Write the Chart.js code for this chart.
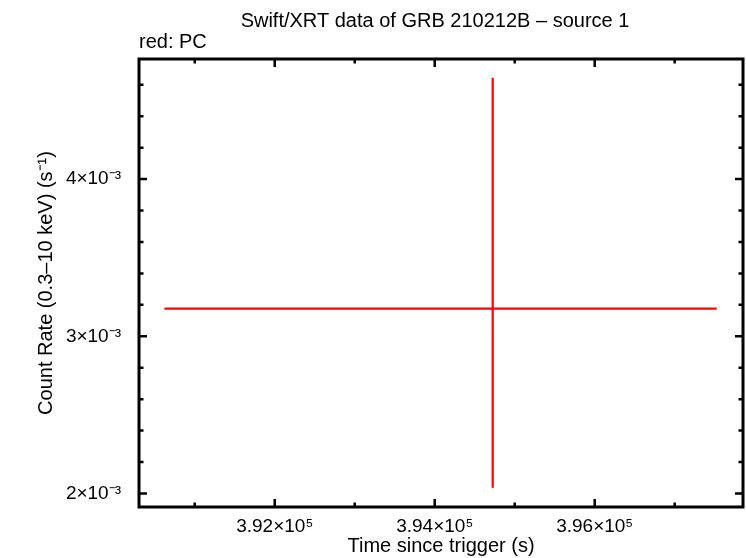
<!DOCTYPE html>
<html>
<head>
<meta charset="utf-8">
<script src="https://cdn.jsdelivr.net/npm/chart.js@4.4.0/dist/chart.umd.min.js"></script>
<style>
body{margin:0;background:#fff;}
#wrap{width:746px;height:558px;}
</style>
</head>
<body>
<div id="wrap"><canvas id="lc"></canvas></div>
<script>
// light curve point (PC mode)
var times = [394725];
var timeErrLo = [4104];
var timeErrHi = [2800];
var rates = [0.003176];
var rateErrLo = [0.00114];
var rateErrHi = [0.001469];

// axes
var xRange = [390303, 397854];
var yRange = [0.001914, 0.004764];
var xMajor = [392000, 394000, 396000];
var xMinor = [391000, 393000, 395000, 397000];
var yMajor = [0.002, 0.003, 0.004];
var yMinor = [0.0022, 0.0024, 0.0026, 0.0028, 0.0032, 0.0034, 0.0036, 0.0038, 0.0042, 0.0044, 0.0046];

var FONT = '"Liberation Sans", Arial, Helvetica, sans-serif';

var sup = {'-':'\u207B','0':'\u2070','1':'\u00B9','2':'\u00B2','3':'\u00B3','4':'\u2074','5':'\u2075','6':'\u2076','7':'\u2077','8':'\u2078','9':'\u2079'};
function sci(v){
	var e = Math.floor(Math.log10(v) + 1e-9);
	var m = +(v / Math.pow(10, e)).toFixed(2);
	return m + '\u00D710' + String(e).split('').map(function(c){ return sup[c]; }).join('');
}

var xErrPts = [], yErrPts = [];
times.forEach(function(t, i){
	xErrPts.push({x:t - timeErrLo[i], y:rates[i]}, {x:t + timeErrHi[i], y:rates[i]}, {x:null, y:null});
	yErrPts.push({x:t, y:rates[i] - rateErrLo[i]}, {x:t, y:rates[i] + rateErrHi[i]}, {x:null, y:null});
});

// frame + inward ticks on all four sides
var framePlugin = {
	id:'frame',
	afterDatasetsDraw: function(chart){
		var ctx = chart.ctx, a = chart.chartArea, xs = chart.scales.x, ys = chart.scales.y;
		ctx.save();
		ctx.strokeStyle = '#000';
		ctx.lineWidth = 2.5;
		ctx.beginPath();
		function xt(v, len){
			var p = xs.getPixelForValue(v);
			ctx.moveTo(p, a.bottom); ctx.lineTo(p, a.bottom - len);
			ctx.moveTo(p, a.top); ctx.lineTo(p, a.top + len);
		}
		function yt(v, len){
			var p = ys.getPixelForValue(v);
			ctx.moveTo(a.left, p); ctx.lineTo(a.left + len, p);
			ctx.moveTo(a.right, p); ctx.lineTo(a.right - len, p);
		}
		xMajor.forEach(function(v){ xt(v, 8); });
		xMinor.forEach(function(v){ xt(v, 4.5); });
		yMajor.forEach(function(v){ yt(v, 8); });
		yMinor.forEach(function(v){ yt(v, 4.5); });
		ctx.stroke();
		ctx.lineWidth = 3;
		ctx.strokeRect(a.left, a.top, a.right - a.left, a.bottom - a.top);
		ctx.restore();
	},
	afterDraw: function(chart){
		var ctx = chart.ctx;
		ctx.save();
		ctx.fillStyle = '#000';
		ctx.font = '20px ' + FONT;
		ctx.textBaseline = 'alphabetic';
		ctx.textAlign = 'center';
		ctx.fillText('Swift/XRT data of GRB 210212B \u2013 source 1', 435, 27);
		ctx.textAlign = 'left';
		ctx.fillText('red: PC', chart.chartArea.left, 48);
		ctx.restore();
	}
};

var lc = new Chart(document.getElementById('lc'), {
	type:'line',
	data:{
		datasets:[{
			label:'PC time error',
			data:xErrPts,
			borderColor:'#FF0000',
			borderWidth:2.2,
			pointRadius:0,
			spanGaps:false
		},
		{
			label:'PC rate error',
			data:yErrPts,
			borderColor:'#FF0000',
			borderWidth:2.2,
			pointRadius:0,
			spanGaps:false
		}]
	},
	options:{
		responsive:true,
		maintainAspectRatio:false,
		animation:false,
		layout:{padding:{top:59, right:3, left:0, bottom:0}},
		plugins:{legend:{display:false}, tooltip:{enabled:false}},
		scales:{
			x:{
				type:'linear',
				min:xRange[0],
				max:xRange[1],
				grid:{display:false},
				border:{display:false},
				afterBuildTicks:function(s){ s.ticks = xMajor.map(function(v){ return {value:v}; }); },
				afterFit:function(s){ s.height = 51; },
				ticks:{color:'#000', padding:0, maxRotation:0, autoSkip:false, font:{family:FONT, size:19}, callback:function(v){ return sci(v); }},
				title:{display:true, text:'Time since trigger (s)', color:'#000', font:{family:FONT, size:20}, padding:{top:0, bottom:0}}
			},
			y:{
				type:'linear',
				min:yRange[0],
				max:yRange[1],
				grid:{display:false},
				border:{display:false},
				afterBuildTicks:function(s){ s.ticks = yMajor.map(function(v){ return {value:v}; }); },
				afterFit:function(s){ s.width = 139; },
				ticks:{color:'#000', padding:10, autoSkip:false, font:{family:FONT, size:19}, callback:function(v){ return sci(v); }},
				title:{display:true, text:'Count Rate (0.3\u201310 keV) (s\u207B\u00B9)', color:'#000', font:{family:FONT, size:20}, padding:{top:34, bottom:0}}
			}
		}
	},
	plugins:[framePlugin]
});
</script>
</body>
</html>
